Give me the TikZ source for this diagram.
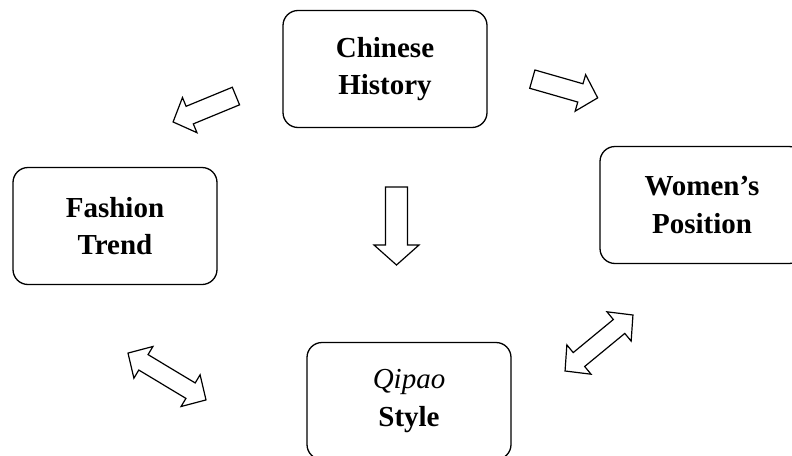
\documentclass[tikz,border=0pt]{standalone}
\usepackage{fontspec}
\setmainfont{Liberation Serif}
\begin{document}
\begin{tikzpicture}[x=1pt,y=-1pt,
  box/.style={draw=black,line width=1.3pt,rounded corners=15pt,minimum width=204pt,minimum height=117pt,align=center,inner sep=0pt,
    font=\fontsize{29}{37.5}\selectfont\bfseries},
  blockarrow/.style={draw=black,line width=1.2pt,fill=white,line join=miter}]
\useasboundingbox (0,0) rectangle (792,455);

\newcommand\singlearrow[7]{%
  \begin{scope}[shift={(#1,#2)},rotate=#3]
    \draw[blockarrow] ({-#4/2},{-#5/2}) -- ({#4/2-#7},{-#5/2}) -- ({#4/2-#7},{-#6/2}) -- ({#4/2},0)
      -- ({#4/2-#7},{#6/2}) -- ({#4/2-#7},{#5/2}) -- ({-#4/2},{#5/2}) -- cycle;
  \end{scope}}
\newcommand\doublearrow[7]{%
  \begin{scope}[shift={(#1,#2)},rotate=#3]
    \draw[blockarrow] ({-#4/2},0) -- ({-#4/2+#7},{#6/2}) -- ({-#4/2+#7},{#5/2}) -- ({#4/2-#7},{#5/2})
      -- ({#4/2-#7},{#6/2}) -- ({#4/2},0) -- ({#4/2-#7},{-#6/2}) -- ({#4/2-#7},{-#5/2})
      -- ({-#4/2+#7},{-#5/2}) -- ({-#4/2+#7},{-#6/2}) -- cycle;
  \end{scope}}

\node[box] (hist) at (385,69) {Chinese\\History};
\node[box] (fash) at (115,226) {Fashion\\Trend};
\node[box] (women) at (702,205) {Women’s\\Position};
\node[box] (qipao) at (409,401) {{\mdseries\itshape Qipao}\\Style};

% arrows
\singlearrow{204.5}{109}{202.4}{68}{19}{38}{18}
\singlearrow{565}{88.5}{-16}{68}{19}{38}{18}
\singlearrow{396.5}{226}{-90}{78}{22}{45}{20}
\doublearrow{167}{376.5}{-31}{91}{18}{37}{18}
\doublearrow{599}{343}{39.5}{88}{18}{38}{18}
\end{tikzpicture}
\end{document}
